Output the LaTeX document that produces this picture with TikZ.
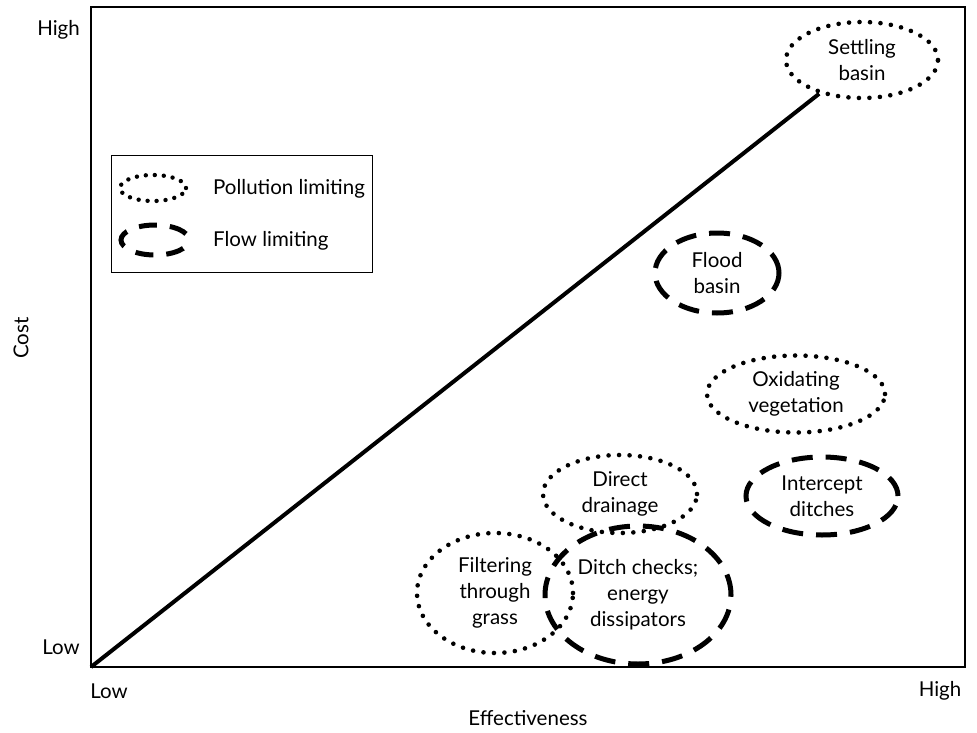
\documentclass[tikz,border=0pt]{standalone}
\usepackage{fontspec}
\setmainfont{Lato}
\usetikzlibrary{shapes.geometric}
\tikzset{
  lbl/.style={font=\fontsize{20.5}{26}\selectfont, inner sep=0pt},
  ell/.style={ellipse, inner sep=0pt, align=center, font=\fontsize{20.5}{26}\selectfont, line cap=round},
  dotted ellipse/.style={ell, draw, line width=4.6pt, dash pattern=on 0pt off 10.5pt},
  dashed ellipse/.style={ell, draw, line width=5pt, line cap=butt, dash pattern=on 21pt off 13pt},
}
\begin{document}
\begin{tikzpicture}[x=1pt,y=-1pt]
\useasboundingbox (0,0) rectangle (977,733);
% axes frame
\coordinate (O) at (91,667);
\coordinate (TR) at (965,7);
\draw[line width=1.3pt] (O) rectangle (TR);
% axis labels
\node[lbl, anchor=east] (yhigh) at (80,30) {High};
\node[lbl, anchor=east] (ylow) at (80,647) {Low};
\node[lbl, rotate=90] (ylab) at (21,338) {Cost};
\node[lbl] (xlow) at (109,691) {Low};
\node[lbl] (xhigh) at (940,691) {High};
\node[lbl] (xlab) at (528,718) {Effectiveness};
% legend
\node[draw, line width=1pt, minimum width=261pt, minimum height=116pt, inner sep=0pt] (legend) at (241.5,214) {};
\node[ell, draw, line width=4.4pt, dash pattern=on 0pt off 9pt, minimum width=66pt, minimum height=26pt] (legdot) at (153,188) {};
\node[ell, draw, line width=5pt, line cap=butt, dash pattern=on 18pt off 13pt, dash phase=-7pt, minimum width=68pt, minimum height=30pt] (legdash) at (155,240) {};
\node[lbl, anchor=west] (legdottxt) at (213,189) {Pollution limiting};
\node[lbl, anchor=west] (legdashtxt) at (213,241) {Flow limiting};
% ellipses
\node[dotted ellipse, minimum width=152pt, minimum height=76pt] (settling) at (862,60) {Settling\\basin};
\node[dashed ellipse, minimum width=124pt, minimum height=80pt] (flood) at (717,273) {Flood\\basin};
\node[dotted ellipse, minimum width=178pt, minimum height=77pt] (oxid) at (796,394) {Oxidating\\vegetation};
\node[dashed ellipse, minimum width=152pt, minimum height=78pt] (intercept) at (822,496) {Intercept\\ditches};
\node[dotted ellipse, minimum width=154pt, minimum height=78pt] (direct) at (620,494) {Direct\\drainage};
\node[dashed ellipse, minimum width=186pt, minimum height=138pt] (ditch) at (638,595) {Ditch checks;\\energy\\dissipators};
\node[dotted ellipse, minimum width=156pt, minimum height=120pt] (filter) at (495,593) {Filtering\\through\\grass};
% trend line
\draw[line width=4pt] (O) -- (settling);
\end{tikzpicture}
\end{document}
